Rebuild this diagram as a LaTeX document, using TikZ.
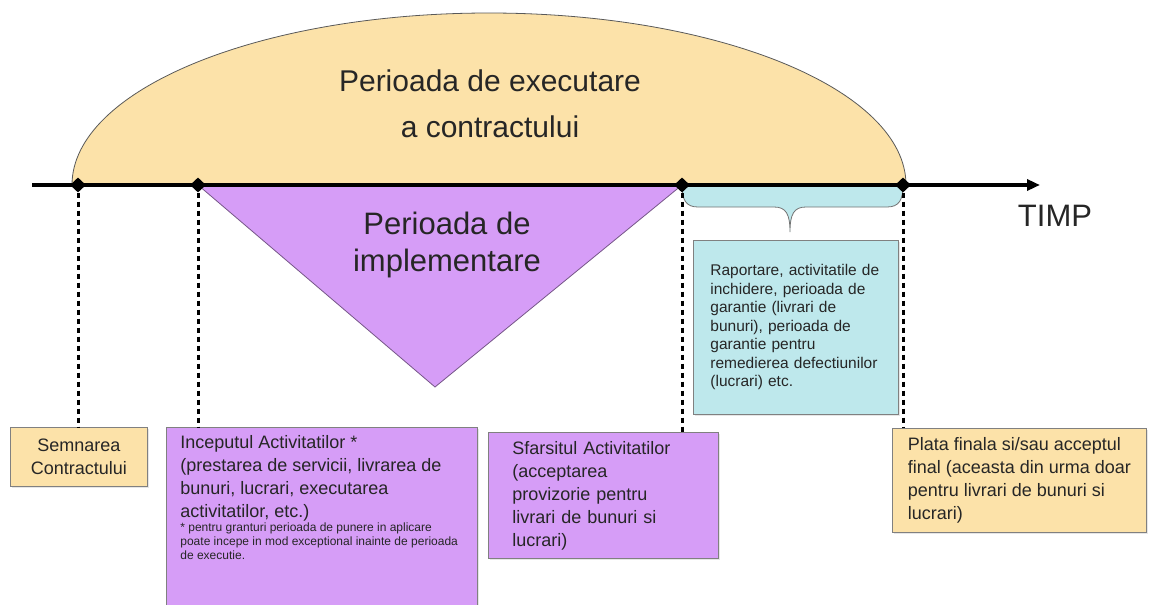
\documentclass[tikz,border=0pt]{standalone}
\usepackage{fontspec}
\setmainfont{Liberation Sans}
\usetikzlibrary{shapes.geometric,arrows.meta,shadows}

\definecolor{peach}{RGB}{252,226,169}
\definecolor{lilac}{RGB}{214,157,247}
\definecolor{paleblue}{RGB}{190,232,236}
\newcommand{\bigtxt}{\fontsize{30}{46}\selectfont}
\newcommand{\boxtxt}{\fontsize{18}{23}\selectfont}

\begin{document}
\begin{tikzpicture}[x=1pt,y=-1pt,
    every node/.style={text=black!85},
    marker/.style={diamond,fill=black,inner sep=0pt,minimum width=16pt,minimum height=15pt},
    guide/.style={line width=3pt,dash pattern=on 5.5pt off 3.5pt},
    box/.style={draw=black!50,line width=0.8pt,anchor=north west,inner ysep=0pt,
        drop shadow={opacity=.2,shadow xshift=1.5pt,shadow yshift=-1.5pt}}]
\useasboundingbox (0,0) rectangle (1149,605);

\coordinate (tstart) at (32,185);
\coordinate (tend) at (1040,185);
\coordinate (t1) at (78,185);
\coordinate (t2) at (198,185);
\coordinate (t3) at (682,185);
\coordinate (t4) at (903,185);
\coordinate (vtip) at (435,387);

% perioada de executare
\filldraw[fill=peach,draw=black!65,line width=0.8pt] (72,185) arc[start angle=180,end angle=360,x radius=417,y radius=172];
% perioada de implementare
\filldraw[fill=lilac,draw=black!45!lilac,line width=0.8pt] (t2) -- (t3) -- (vtip) -- cycle;
% acolada
\filldraw[fill=paleblue,draw=black!55,line width=0.8pt] (t3) .. controls (682,200) and (686,207) .. (698,207) -- (774,207)
    .. controls (786,207) and (790,214) .. (790,232) .. controls (790,214) and (794,207) .. (806,207) -- (887,207)
    .. controls (899,207) and (903,200) .. (t4) -- cycle;

\draw[line width=3.5pt,-{Triangle[length=13pt,width=11pt]}] (tstart) -- (tend);
\foreach \i in {1,...,4}
    \node[marker] (m\i) at (t\i) {};

\node[box,fill=peach,minimum width=137pt,minimum height=59pt,text width=121pt,align=center,font=\boxtxt] (sign) at (10,427)
    {Semnarea\\Contractului};
\node[box,fill=lilac,inner xsep=14pt,inner ysep=8pt] (start) at (166,427)
    {\parbox[t][200pt][t]{283pt}{\raggedright
    {\boxtxt Inceputul Activitatilor *\\(prestarea de servicii, livrarea de\\bunuri, lucrari, executarea\\activitatilor, etc.)\par}
    {\fontsize{12}{14}\selectfont * pentru granturi perioada de punere in aplicare\\poate incepe in mod exceptional inainte de perioada\\de executie.\par}}};
\node[box,fill=lilac,minimum width=230pt,minimum height=126pt,inner xsep=24pt,text width=182pt,align=left,font=\boxtxt] (end) at (488,432)
    {Sfarsitul Activitatilor\\(acceptarea\\provizorie pentru\\livrari de bunuri si\\lucrari)};
\node[box,fill=peach,minimum width=254pt,minimum height=104pt,align=left,font=\boxtxt] (final) at (892,428)
    {Plata finala si/sau acceptul\\final (aceasta din urma doar\\pentru livrari de bunuri si\\lucrari)};
\node[box,fill=paleblue,minimum width=205pt,minimum height=174pt,inner xsep=17pt,text width=171pt,align=left,font=\fontsize{15.5}{18.5}\selectfont] (closing) at (693,240)
    {Raportare, activitatile de\\inchidere, perioada de\\garantie (livrari de\\bunuri), perioada de\\garantie pentru\\remedierea defectiunilor\\(lucrari) etc.};

\draw[guide] (m1) -- (m1 |- sign.north);
\draw[guide] (m2) -- (m2 |- start.north);
\draw[guide] (m3) -- (m3 |- end.north);
\draw[guide] (m4) -- (m4 |- final.north);

\node[align=center,font=\bigtxt] (exec) at (490,104) {Perioada de executare\\a contractului};
\node[align=center,font=\fontsize{31}{37}\selectfont] (impl) at (447,245) {Perioada de\\implementare};
\node[font=\fontsize{31}{34}\selectfont] (time) at (1055,216) {TIMP};
\end{tikzpicture}
\end{document}
